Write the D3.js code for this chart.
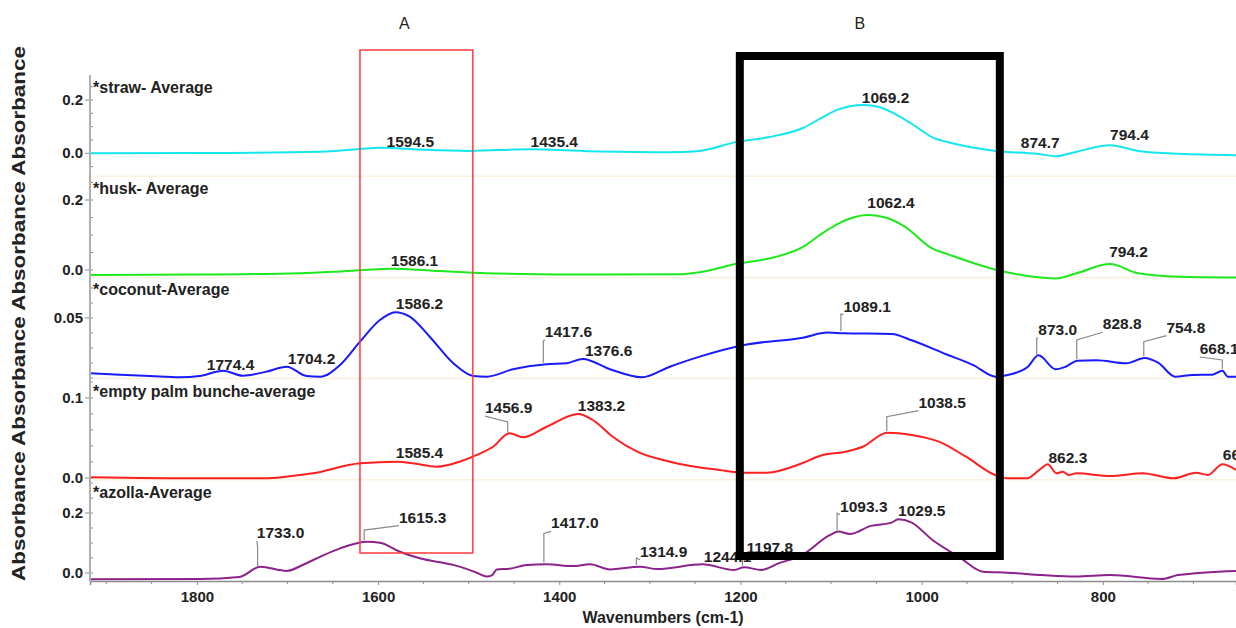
<!DOCTYPE html>
<html>

<head>
    <meta charset='utf-8'>
    <title>FTIR spectra</title>
    <script type='text/javascript' src='https://cdn.jsdelivr.net/npm/d3@7'></script>
    <style>
        body { margin: 0; background: #fff; }
        text { font-family: 'Liberation Sans', Arial, sans-serif; }
    </style>
</head>

<body>
    <svg width='1236' height='628'></svg>
    <script type='text/javascript'>

        // ---- data ----
        const seriesNames = ['*straw- Average', '*husk- Average', '*coconut-Average', '*empty palm bunche-average', '*azolla-Average']
        const seriesColors = ['#14e6f0', '#1ee81e', '#1a1aff', '#ff1f1f', '#8b238b']

        const strawWn = [1918, 1797, 1664, 1620, 1598, 1554, 1499, 1432, 1355, 1278, 1245, 1205, 1170, 1131, 1109, 1094, 1079, 1064, 1048, 1030, 1011, 988, 966, 918, 872, 852, 830, 792, 761, 716, 653]
        const strawAbs = [0.000, 0.001, 0.006, 0.016, 0.021, 0.014, 0.009, 0.015, 0.007, 0.004, 0.009, 0.042, 0.060, 0.095, 0.136, 0.162, 0.177, 0.181, 0.175, 0.149, 0.111, 0.060, 0.038, 0.009, -0.002, -0.011, 0.005, 0.030, 0.009, -0.002, -0.007]

        const huskWn = [1918, 1797, 1686, 1642, 1586, 1532, 1466, 1355, 1267, 1245, 1200, 1170, 1131, 1109, 1094, 1079, 1060, 1041, 1019, 988, 973, 918, 883, 852, 830, 792, 761, 716, 653]
        const huskAbs = [-0.014, -0.013, -0.009, -0.004, 0.004, -0.003, -0.010, -0.013, -0.012, -0.006, 0.020, 0.032, 0.066, 0.106, 0.130, 0.147, 0.157, 0.151, 0.125, 0.061, 0.047, 0.001, -0.017, -0.024, -0.010, 0.017, -0.009, -0.019, -0.021]

        const coconutWn = [1918, 1852, 1819, 1797, 1771, 1749, 1723, 1701, 1679, 1664, 1642, 1620, 1598, 1581, 1565, 1543, 1517, 1495, 1480, 1451, 1414, 1392, 1374, 1344, 1309, 1278, 1245, 1196, 1131, 1104, 1087, 1033, 1011, 973, 943, 918, 905, 883, 871, 852, 841, 828, 807, 774, 754, 739, 720, 701, 679, 668, 662, 653]
        const coconutAbs = [0.0039, 0.0017, 0.0006, 0.0017, 0.0061, 0.0019, 0.0053, 0.0094, 0.0017, 0.0011, 0.0108, 0.0303, 0.0483, 0.0548, 0.0511, 0.0344, 0.0123, 0.0017, 0.0011, 0.0073, 0.0114, 0.0123, 0.0158, 0.0073, 0.0006, 0.0094, 0.0178, 0.0275, 0.0336, 0.0378, 0.0373, 0.0367, 0.0314, 0.0198, 0.0108, 0.0011, 0.0025, 0.0092, 0.0189, 0.0073, 0.0094, 0.0144, 0.0148, 0.0123, 0.0167, 0.0128, 0.0011, 0.0025, 0.0028, 0.0061, 0.0011, 0.0011]

        const palmWn = [1918, 1797, 1724, 1702, 1672, 1620, 1579, 1562, 1535, 1510, 1491, 1473, 1455, 1440, 1414, 1379, 1363, 1341, 1314, 1278, 1223, 1196, 1171, 1132, 1112, 1084, 1065, 1038, 1011, 981, 951, 919, 905, 884, 868, 861, 851, 844, 838, 829, 792, 756, 722, 697, 684, 668, 653]
        const palmAbs = [0.0009, -0.0004, -0.0004, 0.0016, 0.0059, 0.0184, 0.0204, 0.0184, 0.0141, 0.0204, 0.0288, 0.0391, 0.0559, 0.0509, 0.0641, 0.0800, 0.0725, 0.0516, 0.0329, 0.0204, 0.0100, 0.0066, 0.0066, 0.0184, 0.0279, 0.0329, 0.0391, 0.0566, 0.0538, 0.0454, 0.0266, 0.0038, -0.0004, -0.0004, 0.0121, 0.0171, 0.0059, 0.0079, 0.0038, 0.0059, 0.0025, 0.0059, -0.0004, 0.0066, 0.0038, 0.0171, 0.0100]

        const azollaWn = [1918, 1797, 1753, 1730, 1701, 1681, 1664, 1642, 1612, 1598, 1576, 1554, 1517, 1491, 1480, 1474, 1469, 1455, 1436, 1414, 1385, 1366, 1344, 1311, 1292, 1242, 1207, 1196, 1177, 1158, 1132, 1101, 1092, 1079, 1056, 1033, 1026, 1011, 988, 958, 932, 905, 867, 830, 792, 735, 717, 653]
        const azollaAbs = [-0.021, -0.020, -0.013, 0.021, 0.007, 0.030, 0.054, 0.082, 0.104, 0.101, 0.071, 0.049, 0.027, 0.001, -0.012, -0.007, 0.012, 0.014, 0.027, 0.029, 0.023, 0.029, 0.012, 0.021, 0.013, 0.029, 0.010, 0.019, 0.010, 0.032, 0.060, 0.127, 0.138, 0.130, 0.157, 0.168, 0.179, 0.168, 0.110, 0.052, 0.004, 0.001, -0.007, -0.012, -0.007, -0.020, -0.007, 0.007]

        // peak labels: [text, peak wavenumber, label wavenumber, label absorbance, leader elbow (null = none)]
        const strawPeaks = [['1594.5', 1594.5, 1590.6, 0.025, null], ['1435.4', 1435.4, 1431.7, 0.024, null], ['1069.2', 1069.2, 1066, 0.19, null], ['874.7', 874.7, 890.5, 0.021, null], ['794.4', 794.4, 792, 0.05, null]]
        const huskPeaks = [['1586.1', 1586.1, 1586, 0.011, null], ['1062.4', 1062.4, 1060, 0.176, null], ['794.2', 794.2, 793, 0.038, null]]
        const coconutPeaks = [['1774.4', 1774.4, 1789, 0.0067, null], ['1704.2', 1704.2, 1699.6, 0.0117, null], ['1586.2', 1586.2, 1580.4, 0.0573, null], ['1417.6', 1417.6, 1416, 0.0344, 0.0308], ['1376.6', 1376.6, 1371.7, 0.0183, null], ['1089.1', 1089.1, 1086.3, 0.0553, 0.0533], ['873.0', 873.0, 871.2, 0.0358, 0.0333], ['828.8', 828.8, 800, 0.0406, 0.0317], ['754.8', 754.8, 729.7, 0.0378, 0.0303], ['668.1', 668.1, 693, 0.02, 0.015]]
        const palmPeaks = [['1585.4', 1585.4, 1580.4, 0.0246, null], ['1456.9', 1456.9, 1482, 0.081, 0.07], ['1383.2', 1383.2, 1379.5, 0.084, null], ['1038.5', 1038.5, 1003.5, 0.088, 0.0766], ['862.3', 862.3, 860, 0.019, null], ['668.4', 668.4, 667.5, 0.0225, null]]
        const azollaPeaks = [['1733.0', 1733.0, 1733.8, 0.116, 0.087], ['1615.3', 1615.3, 1577, 0.168, 0.143], ['1417.0', 1417.0, 1409, 0.149, 0.132], ['1314.9', 1314.9, 1311, 0.054, 0.05], ['1244.1', 1244.1, 1240.4, 0.038, null], ['1197.8', 1197.8, 1193.3, 0.066, 0.05], ['1093.3', 1093.3, 1090, 0.204, 0.199], ['1029.5', 1029.5, 1026, 0.19, null]]

        const xTickValues = [1800, 1600, 1400, 1200, 1000, 800]
        const yTickValues = [[0, 0.2], [0, 0.2], [0.05], [0, 0.1], [0, 0.2]]
        const yTickLabels = [['0.0', '0.2'], ['0.0', '0.2'], ['0.05'], ['0.0', '0.1'], ['0.0', '0.2']]
        const yMinorStep = [0.05, 0.05, 0.0125, 0.02, 0.05]
        const yDomains = [[-0.086, 0.294], [-0.021, 0.268], [-0.0005, 0.0838], [-0.00225, 0.12425], [-0.0267, 0.3107]]

        // highlighted regions (wavenumber ranges)
        const regionNames = ['A', 'B']
        const regionFrom = [1620, 1200.7]
        const regionTo = [1495.4, 913.7]
        const regionColors = ['#ff3a3a', '#000000']

        const spectra = [
            { wn: strawWn, abs: strawAbs, peaks: strawPeaks },
            { wn: huskWn, abs: huskAbs, peaks: huskPeaks },
            { wn: coconutWn, abs: coconutAbs, peaks: coconutPeaks },
            { wn: palmWn, abs: palmAbs, peaks: palmPeaks },
            { wn: azollaWn, abs: azollaAbs, peaks: azollaPeaks }
        ]

        // ---- layout ----
        const svg = d3.select('svg')
        const plotLeft = 90, plotRight = 1236, plotTop = 75, plotBottom = 581
        const panelH = (plotBottom - plotTop) / spectra.length
        const axisColor = '#8c8c8c'
        const textColor = '#222'

        const x = d3.scaleLinear([1918, 653], [plotLeft, plotRight])

        svg.append('rect').attr('width', 1236).attr('height', 628).attr('fill', '#fff')

        // panel separators
        for (let i = 1; i < spectra.length; i++) {
            svg.append('line')
                .attr('x1', plotLeft).attr('x2', plotRight)
                .attr('y1', plotTop + i * panelH).attr('y2', plotTop + i * panelH)
                .attr('stroke', '#fbf0dc').attr('stroke-width', 1.5)
        }

        // value at a wavenumber along the drawn polyline (for leader start)
        function valueAt(wn, abs, w) {
            for (let i = 0; i < wn.length - 1; i++) {
                if (w <= wn[i] && w >= wn[i + 1]) {
                    const t = (wn[i] - w) / (wn[i] - wn[i + 1])
                    return abs[i] + t * (abs[i + 1] - abs[i])
                }
            }
            return abs[abs.length - 1]
        }

        spectra.forEach((s, i) => {
            const top = plotTop + i * panelH
            const y = d3.scaleLinear(yDomains[i], [top + panelH, top])
            const g = svg.append('g').attr('class', 'panel')

            // minor y ticks
            const [lo, hi] = yDomains[i]
            const minor = d3.range(Math.ceil(lo / yMinorStep[i]) * yMinorStep[i], hi, yMinorStep[i])
            g.selectAll('.ymin').data(minor).enter().append('line')
                .attr('x1', plotLeft).attr('x2', plotLeft + 3)
                .attr('y1', d => y(d)).attr('y2', d => y(d))
                .attr('stroke', axisColor).attr('stroke-width', 1)

            // major y ticks + labels
            yTickValues[i].forEach((v, k) => {
                g.append('line')
                    .attr('x1', plotLeft - 5).attr('x2', plotLeft)
                    .attr('y1', y(v)).attr('y2', y(v))
                    .attr('stroke', axisColor)
                g.append('text')
                    .attr('x', plotLeft - 7).attr('y', y(v) + 5)
                    .attr('text-anchor', 'end')
                    .attr('font-size', '15px').attr('font-weight', 'bold')
                    .attr('fill', textColor)
                    .text(yTickLabels[i][k])
            })

            // panel title
            g.append('text')
                .attr('x', plotLeft + 3).attr('y', top + 18)
                .attr('font-size', '16px').attr('font-weight', 'bold')
                .attr('fill', textColor)
                .text(seriesNames[i])

            // spectrum
            const pts = s.wn.map((w, k) => [w, s.abs[k]])
            const line = d3.line().x(d => x(d[0])).y(d => y(d[1])).curve(d3.curveMonotoneX)
            g.append('path')
                .attr('d', line(pts))
                .attr('fill', 'none')
                .attr('stroke', seriesColors[i])
                .attr('stroke-width', 2)
                .attr('stroke-linejoin', 'round')

            // peak labels and leaders
            s.peaks.forEach(p => {
                const [label, peak, lw, lv, elbow] = p
                if (elbow !== null) {
                    const px = x(peak)
                    const py = y(valueAt(s.wn, s.abs, peak))
                    g.append('path')
                        .attr('d', `M${px},${py - 2}V${y(elbow)}L${x(lw)},${y(lv) + 3}`)
                        .attr('fill', 'none')
                        .attr('stroke', '#8a8a8a')
                        .attr('stroke-width', 1.2)
                }
                g.append('text')
                    .attr('x', x(lw)).attr('y', y(lv))
                    .attr('font-size', '15.5px').attr('font-weight', 'bold')
                    .attr('fill', textColor)
                    .text(label)
            })
        })

        // y axis line
        svg.append('line')
            .attr('x1', plotLeft).attr('x2', plotLeft)
            .attr('y1', plotTop).attr('y2', plotBottom)
            .attr('stroke', '#b0b0b0').attr('stroke-width', 2)

        // x axis
        const xAxis = d3.axisBottom(x).tickValues(xTickValues).tickSize(4).tickFormat(d3.format('d'))
        const gx = svg.append('g').attr('transform', `translate(0, ${plotBottom})`).call(xAxis)
        gx.select('.domain').attr('stroke', axisColor).attr('stroke-width', 1.5)
        gx.selectAll('.tick line').attr('stroke', axisColor)
        gx.selectAll('.tick text')
            .attr('y', 10).attr('dy', '0.71em')
            .attr('font-size', '15px').attr('font-weight', 'bold')
            .attr('font-family', "'Liberation Sans', Arial, sans-serif")
            .attr('fill', textColor)
        const xMinor = d3.range(700, 1901, 50).filter(d => d % 200 !== 0)
        svg.selectAll('.xmin').data(xMinor).enter().append('line')
            .attr('x1', d => x(d)).attr('x2', d => x(d))
            .attr('y1', plotBottom).attr('y2', plotBottom + 3)
            .attr('stroke', axisColor)

        // axis titles
        svg.append('text')
            .attr('x', (plotLeft + plotRight) / 2).attr('y', 623)
            .attr('text-anchor', 'middle')
            .attr('font-size', '16px').attr('font-weight', 'bold')
            .attr('fill', textColor)
            .text('Wavenumbers (cm-1)')

        svg.append('text')
            .attr('transform', `translate(25, ${(46 + 581) / 2}) rotate(-90)`)
            .attr('text-anchor', 'middle')
            .attr('font-size', '19px').attr('font-weight', 'bold')
            .attr('textLength', 535).attr('lengthAdjust', 'spacingAndGlyphs')
            .attr('fill', textColor)
            .text('Absorbance Absorbance Absorbance Absorbance')

        // highlight boxes A and B
        regionNames.forEach((name, i) => {
            const x0 = x(regionFrom[i]), x1 = x(regionTo[i])
            const isB = i === 1
            svg.append('rect')
                .attr('x', x0).attr('y', isB ? 56 : 50)
                .attr('width', x1 - x0).attr('height', isB ? 500 : 503)
                .attr('fill', 'none')
                .attr('stroke', regionColors[i])
                .attr('stroke-width', isB ? 8 : 1.5)
            svg.append('text')
                .attr('x', (x0 + x1) / 2 - (isB ? 10 : 12)).attr('y', 29)
                .attr('text-anchor', 'middle')
                .attr('font-size', '16px')
                .attr('fill', textColor)
                .text(name)
        })
    </script>
</body>

</html>
